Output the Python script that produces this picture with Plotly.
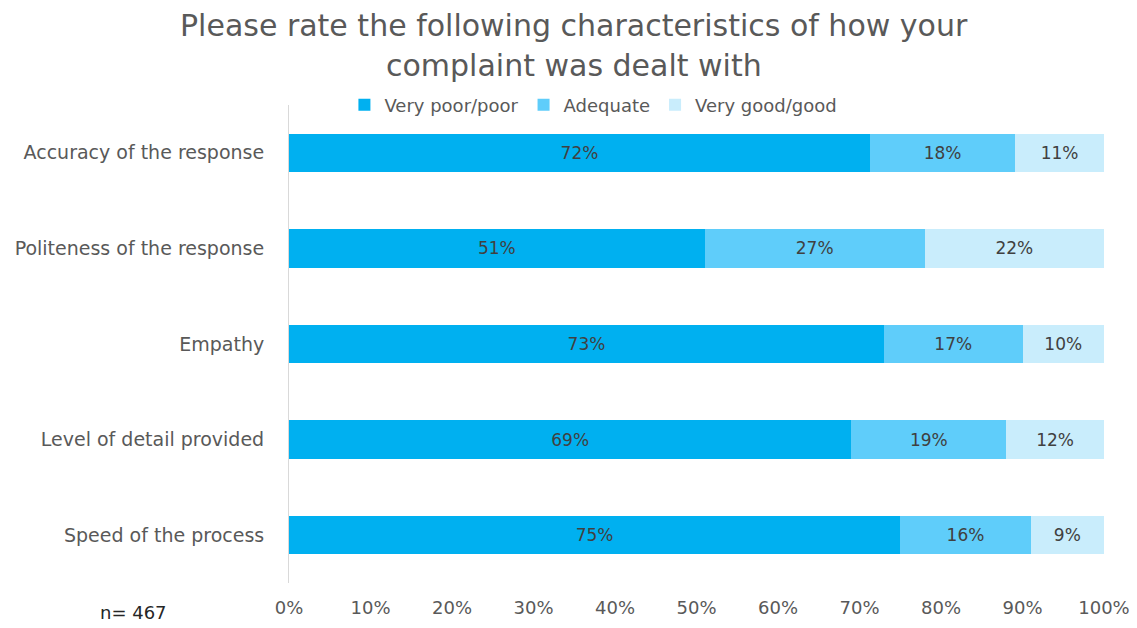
import plotly.graph_objects as go

categories = ["Accuracy of the response", "Politeness of the response", "Empathy",
              "Level of detail provided", "Speed of the process"]
very_poor = [72, 51, 73, 69, 75]
adequate = [18, 27, 17, 19, 16]
very_good = [11, 22, 10, 12, 9]
series_names = ["Very poor/poor", "Adequate", "Very good/good"]
colors = ["#00B0F0", "#5FCDFA", "#C9EDFC"]
tick_vals = [0, 10, 20, 30, 40, 50, 60, 70, 80, 90, 100]
tick_text = [f"{v}%" for v in tick_vals]
title_lines = ["Please rate the following characteristics of how your",
               "complaint was dealt with"]

FONT = "DejaVu Sans, sans-serif"

fig = go.Figure()
for name, vals, col in zip(series_names, [very_poor, adequate, very_good], colors):
    fig.add_trace(go.Bar(
        y=categories, x=vals, name=name, orientation="h",
        marker=dict(color=col, line=dict(width=0)),
        text=[f"{v}%" for v in vals], textposition="inside",
        insidetextanchor="middle",
        textfont=dict(size=17, color="#404040", family=FONT),
        width=0.4,
    ))

fig.update_layout(
    barmode="stack", barnorm="percent",
    width=1137, height=628,
    margin=dict(l=289, r=33, t=105, b=45),
    paper_bgcolor="white", plot_bgcolor="white",
    font=dict(family=FONT, color="#595959", size=18),
    legend=dict(orientation="h", x=0.068, xanchor="left", y=1.0, yanchor="middle",
                font=dict(size=18, color="#595959"), traceorder="normal",
                itemwidth=30, bgcolor="rgba(0,0,0,0)"),
    uniformtext=dict(minsize=10, mode="show"),
)
fig.update_xaxes(range=[0, 100], tickvals=tick_vals, ticktext=tick_text,
                 showgrid=False, zeroline=False, showline=False, automargin=False,
                 ticklabelstandoff=12,
                 tickfont=dict(size=18, color="#595959"), ticklen=0, ticks="")
fig.update_yaxes(categoryorder="array", categoryarray=categories[::-1],
                 range=[-0.5, 4.5], automargin=False,
                 showgrid=False, zeroline=False, showline=True, linecolor="#D9D9D9",
                 linewidth=1, ticks="", ticklabelstandoff=20,
                 tickfont=dict(size=19, color="#595959"))
for line, ypx in zip(title_lines, [25, 65]):
    fig.add_annotation(text=line, xref="paper", yref="paper",
                       x=(574 - 289) / 815, y=(583 - ypx) / 478,
                       xanchor="center", yanchor="middle", showarrow=False,
                       font=dict(size=30, color="#595959", family=FONT))
fig.add_annotation(text="n= 467", xref="paper", yref="paper", x=(98 - 289) / 815,
                   y=(583 - 612) / 478, xanchor="left", yanchor="middle", showarrow=False,
                   font=dict(size=18, color="#262626", family=FONT))

fig.write_html("out.html")
